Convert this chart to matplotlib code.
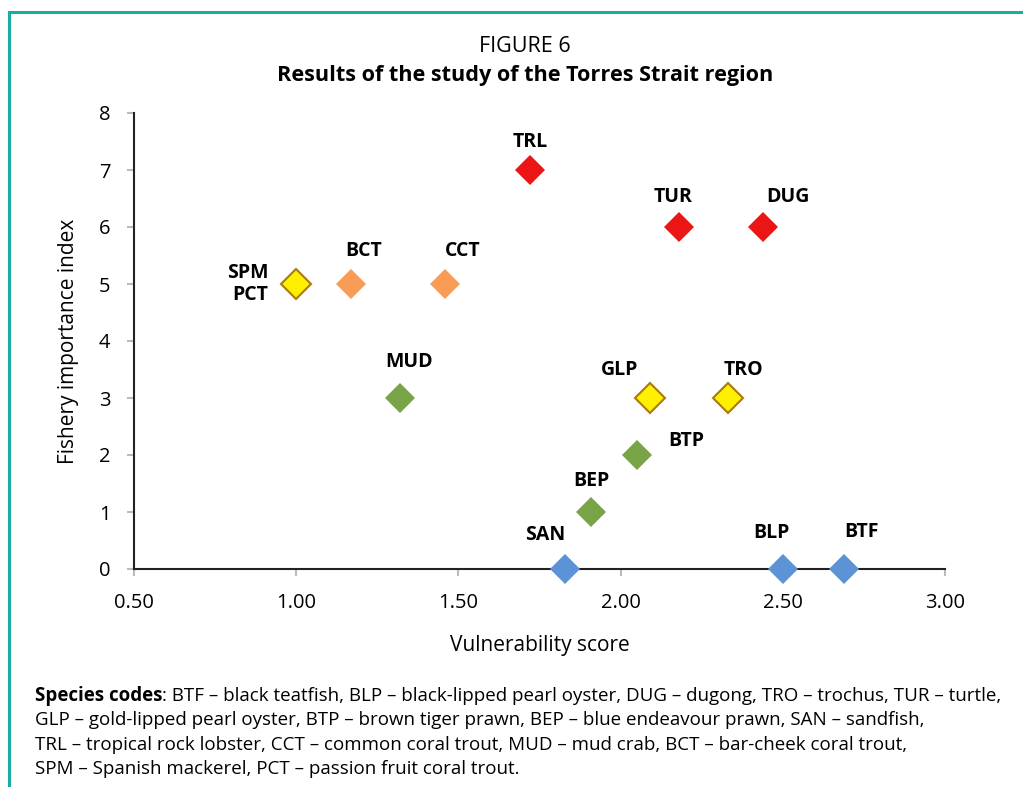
import matplotlib.pyplot as plt

plt.rcParams['font.family'] = ['Open Sans', 'DejaVu Sans']

# species data: code, vulnerability score, fishery importance index, colour group
codes = ['SPM\nPCT', 'BCT', 'CCT', 'TRL', 'TUR', 'DUG', 'MUD', 'GLP', 'TRO',
         'BTP', 'BEP', 'SAN', 'BLP', 'BTF']
vuln = [1.00, 1.17, 1.46, 1.72, 2.18, 2.44, 1.32, 2.09, 2.33,
        2.05, 1.91, 1.83, 2.50, 2.69]
importance = [5, 5, 5, 7, 6, 6, 3, 3, 3, 2, 1, 0, 0, 0]
groups = ['yellow', 'orange', 'orange', 'red', 'red', 'red', 'green', 'yellow', 'yellow',
          'green', 'green', 'blue', 'blue', 'blue']

# label offsets in pixels from the marker
offsets = [(-28, 0), (12, 33), (17, 33), (0, 28), (-6, 30), (25, 30), (9, 36),
           (-30, 28), (16, 28), (49, 14), (0, 31), (-20, 34), (-11, 36), (17, 37)]

face = {'red': '#EC1515', 'orange': '#F89B55', 'green': '#78A346',
        'yellow': '#FFF000', 'blue': '#5C92D6'}
edge = {'red': '#EC1515', 'orange': '#F89B55', 'green': '#78A346',
        'yellow': '#A97A10', 'blue': '#5C92D6'}

fig = plt.figure(figsize=(10.23, 7.87), dpi=100)
ax = fig.add_axes([134/1023, 1-569/787, 811/1023, 456/787])

for x, y, g in zip(vuln, importance, groups):
    ax.plot(x, y, marker='D', ms=15, mfc=face[g], mec=edge[g],
            mew=1.5 if g == 'yellow' else 0, ls='none', zorder=3, clip_on=False)

for c, x, y, (dx, dy) in zip(codes, vuln, importance, offsets):
    ha = 'right' if c.startswith('SPM') else 'center'
    ax.annotate(c, (x, y), xytext=(dx, dy), textcoords='offset pixels',
                ha=ha, va='center', fontsize=14, fontweight='bold',
                linespacing=1.15, zorder=4)

ax.set_xlim(0.5, 3.0)
ax.set_ylim(0, 8)
ax.set_xticks([0.5, 1.0, 1.5, 2.0, 2.5, 3.0])
ax.set_xticklabels(['0.50', '1.00', '1.50', '2.00', '2.50', '3.00'])
ax.set_yticks(range(0, 9))
ax.tick_params(axis='both', labelsize=14.5, color='#BBBBBB', length=5, width=1.5)
ax.tick_params(axis='x', pad=12)
ax.tick_params(axis='y', pad=12)
for s in ['top', 'right']:
    ax.spines[s].set_visible(False)
ax.spines['left'].set_color('#222222')
ax.spines['bottom'].set_color('#222222')
ax.spines['left'].set_linewidth(1.5)
ax.spines['bottom'].set_linewidth(1.5)
ax.set_xlabel('Vulnerability score', fontsize=15, labelpad=16)
ax.set_ylabel('Fishery importance index', fontsize=15, labelpad=14)

fig.text(0.513, 1-46/787, 'FIGURE 6', ha='center', va='center', fontsize=15.5)
fig.text(0.513, 1-76/787, 'Results of the study of the Torres Strait region',
         ha='center', va='center', fontsize=15.6, fontweight='bold')

notes = [
    'BTF \u2013 black teatfish, BLP \u2013 black-lipped pearl oyster, DUG \u2013 dugong, TRO \u2013 trochus, TUR \u2013 turtle,',
    'GLP \u2013 gold-lipped pearl oyster, BTP \u2013 brown tiger prawn, BEP \u2013 blue endeavour prawn, SAN \u2013 sandfish,',
    'TRL \u2013 tropical rock lobster, CCT \u2013 common coral trout, MUD \u2013 mud crab, BCT \u2013 bar-cheek coral trout,',
    'SPM \u2013 Spanish mackerel, PCT \u2013 passion fruit coral trout.',
]
ys = [696, 720, 745, 769]
fs_note = 13.5
t0 = fig.text(35/1023, 1-ys[0]/787, 'Species codes', fontsize=fs_note, fontweight='bold', va='center')
fig.canvas.draw()
bb = t0.get_window_extent()
fig.text(bb.x1/1023, 1-ys[0]/787, ': ' + notes[0], fontsize=fs_note, va='center')
for line, yy in zip(notes[1:], ys[1:]):
    fig.text(35/1023, 1-yy/787, line, fontsize=fs_note, va='center')

# teal frame around the figure (open to the right and bottom)
fig.add_artist(plt.Line2D([9/1023, 1.0], [1-12/787]*2, color='#1AADA5', lw=2.2))
fig.add_artist(plt.Line2D([9/1023]*2, [0, 1-12/787], color='#1AADA5', lw=2.2))

fig.savefig('out.png', dpi=100)
